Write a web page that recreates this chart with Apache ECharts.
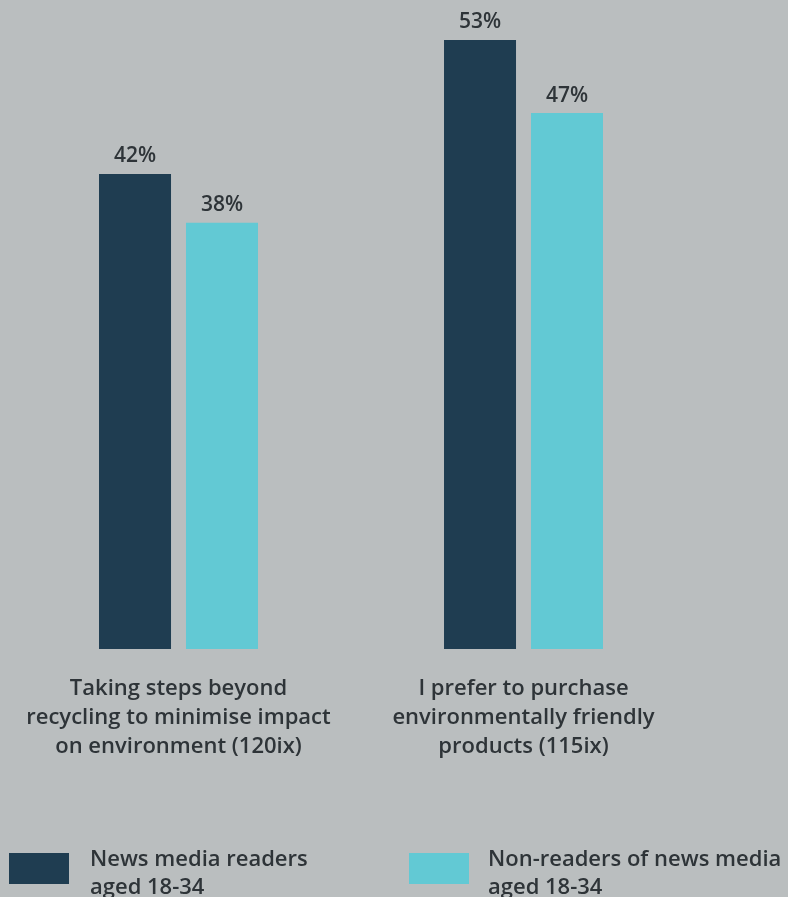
<!DOCTYPE html>
<html><head><meta charset="utf-8">
<script src="https://cdn.jsdelivr.net/npm/echarts@6/dist/echarts.min.js"></script>
<style>html,body{margin:0;padding:0;background:#BABEBF;}#c{width:788px;height:897px;}</style>
</head><body><div id="c"></div>
<script>
const categories = ["Taking steps beyond\nrecycling to minimise impact\non environment (120ix)", "I prefer to purchase\nenvironmentally friendly\nproducts (115ix)"];
const seriesNames = ["News media readers\naged 18-34", "Non-readers of news media\naged 18-34"];
const readers = [42, 53];
const nonReaders = [38, 47];
const colors = ["#1F3D51", "#62C9D4"];
const FONT = "Open Sans";
const TXT = "#2E3438";
const chart = echarts.init(document.getElementById('c'), null, {renderer: 'canvas'});
const labelCfg = {show: true, position: 'top', distance: 7, formatter: '{c}%', color: TXT, fontFamily: FONT, fontSize: 21, fontWeight: 600};
const legendText = {color: TXT, fontFamily: FONT, fontSize: 22, fontWeight: 600, lineHeight: 28, padding: [0,0,0,16],
  rich: {s: {fontSize: 2, lineHeight: 11}, t: {color: TXT, fontFamily: FONT, fontSize: 22, fontWeight: 600, lineHeight: 28}}};
const legendFmt = name => '{s| }\n' + name.split('\n').map(l => '{t|' + l + '}').join('\n');
chart.setOption({
  backgroundColor: '#BABEBF',
  animation: false,
  grid: {left: 6, width: 690, top: 40, bottom: 248},
  xAxis: {type: 'category', data: categories, axisLine: {show: false}, axisTick: {show: false},
    axisLabel: {color: TXT, fontFamily: FONT, fontSize: 22, fontWeight: 600, lineHeight: 29, margin: 25, interval: 0}},
  yAxis: {type: 'value', min: 3, max: 53, show: false, splitLine: {show: false}},
  legend: [
    {data: [seriesNames[0]], left: 9, top: 835, padding: 0, itemWidth: 60, itemHeight: 31, icon: 'rect', formatter: legendFmt, textStyle: legendText},
    {data: [seriesNames[1]], left: 409, top: 835, padding: 0, itemWidth: 60, itemHeight: 31, icon: 'rect', formatter: legendFmt, textStyle: Object.assign({}, legendText, {padding: [0,0,0,14]})}
  ],
  series: [
    {name: seriesNames[0], type: 'bar', data: readers, barWidth: 72, barGap: '20.8%', itemStyle: {color: colors[0]}, label: labelCfg},
    {name: seriesNames[1], type: 'bar', data: nonReaders, barWidth: 72, itemStyle: {color: colors[1]}, label: labelCfg}
  ]
});
</script></body></html>
